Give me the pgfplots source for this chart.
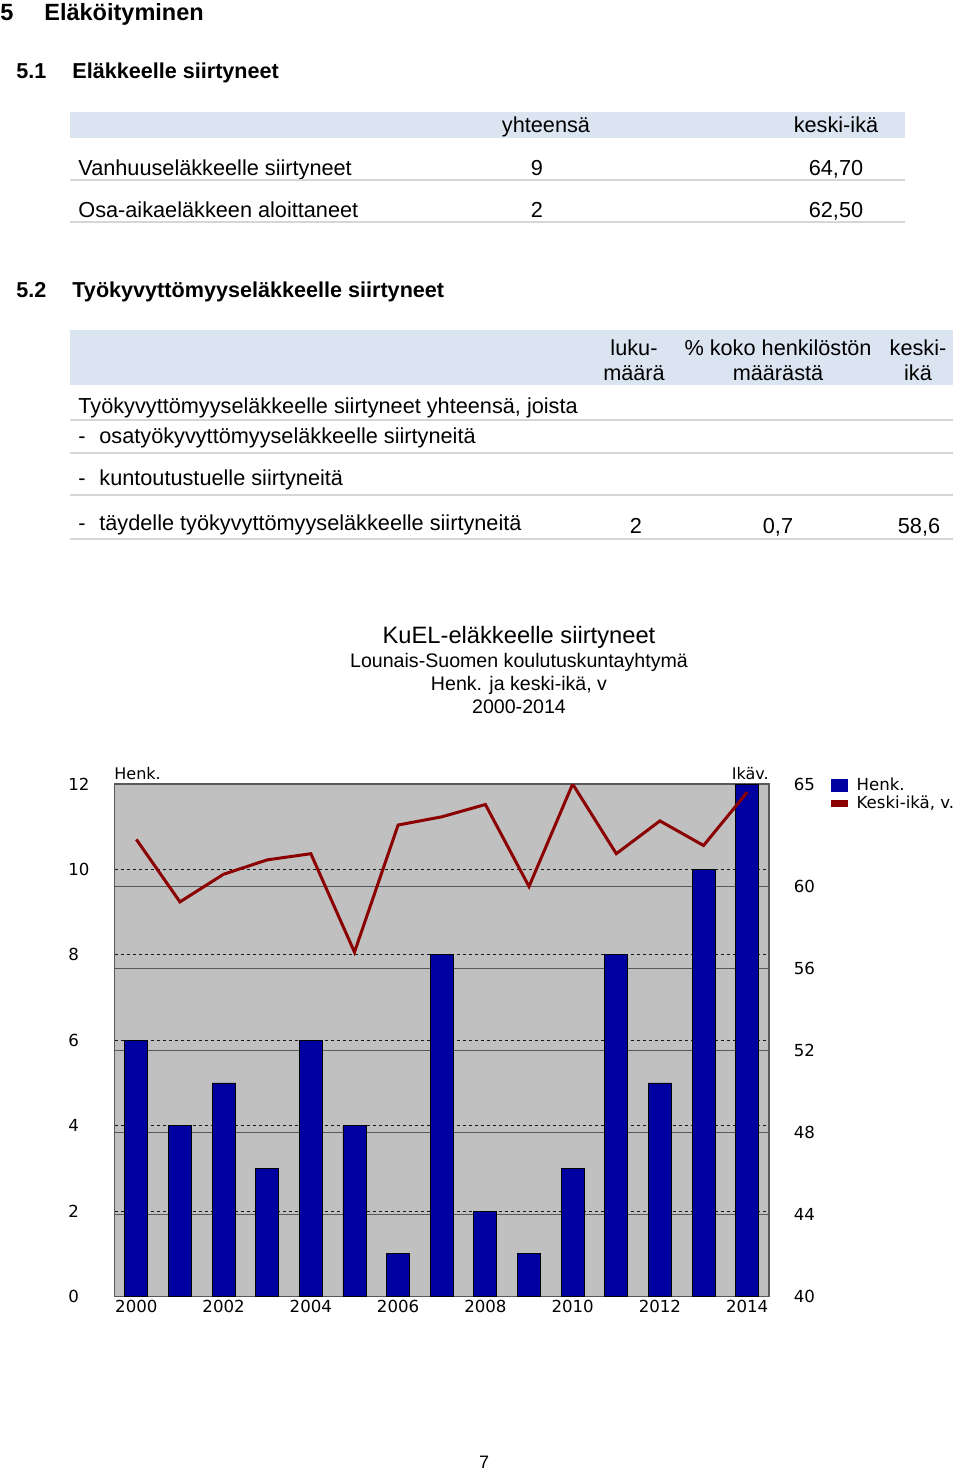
\documentclass[border=0pt]{standalone}
\usepackage{fontspec}
\setmainfont{Liberation Sans}
\newfontfamily\dejavu{DejaVu Sans}
\usepackage{pgfplots}
\pgfplotsset{compat=1.18}
\definecolor{band}{HTML}{DBE5F1}
\definecolor{rulec}{HTML}{D6D6D6}
\definecolor{plotbg}{HTML}{C0C0C0}
\definecolor{barblue}{HTML}{0000A0}
\definecolor{linered}{HTML}{8B0000}
\newcommand{\fs}[1]{\fontsize{#1}{#1}\selectfont}
\begin{document}
\begin{tikzpicture}[x=0.5pt,y=-0.5pt]
\path[fill=white] (0,0) rectangle (960,1472);
\tikzset{T/.style={inner sep=0pt,font=\fs{10.85}}, H/.style={inner sep=0pt,font=\bfseries\fs{10.8}}}
% headings
\node[anchor=base west,inner sep=0pt,font=\bfseries\fs{11.75}] at (0,20) {5};
\node[anchor=base west,inner sep=0pt,font=\bfseries\fs{11.75}] at (44,20) {Eläköityminen};
\node[anchor=base west,H] at (16,78) {5.1};
\node[anchor=base west,H] at (72,78) {Eläkkeelle siirtyneet};
% table 1
\fill[band] (70,112) rectangle (905,138);
\node[anchor=base,T] at (546,132) {yhteensä};
\node[anchor=base,T] at (836,132) {keski-ikä};
\node[anchor=base west,T] at (78,175) {Vanhuuseläkkeelle siirtyneet};
\node[anchor=base,T] at (537,175) {9};
\node[anchor=base,T] at (836,175) {64,70};
\draw[rulec,line width=0.6pt] (70,180) -- (905,180);
\node[anchor=base west,T] at (78,217) {Osa-aikaeläkkeen aloittaneet};
\node[anchor=base,T] at (537,217) {2};
\node[anchor=base,T] at (836,217) {62,50};
\draw[rulec,line width=0.6pt] (70,222) -- (905,222);
% table 2
\node[anchor=base west,H] at (16,297) {5.2};
\node[anchor=base west,H] at (72,297) {Työkyvyttömyyseläkkeelle siirtyneet};
\fill[band] (70,330) rectangle (953,385);
\node[anchor=base,T] at (634,355) {luku-};
\node[anchor=base,T] at (634,380) {määrä};
\node[anchor=base,T] at (778,355) {\% koko henkilöstön};
\node[anchor=base,T] at (778,380) {määrästä};
\node[anchor=base,T] at (918,355) {keski-};
\node[anchor=base,T] at (918,380) {ikä};
\node[anchor=base west,T] at (78,413) {Työkyvyttömyyseläkkeelle siirtyneet yhteensä, joista};
\draw[rulec,line width=0.6pt] (70,420) -- (953,420);
\node[anchor=base west,T] at (78,443) {-};
\node[anchor=base west,T] at (99,443) {osatyökyvyttömyyseläkkeelle siirtyneitä};
\draw[rulec,line width=0.6pt] (70,453) -- (953,453);
\node[anchor=base west,T] at (78,485) {-};
\node[anchor=base west,T] at (99,485) {kuntoutustuelle siirtyneitä};
\draw[rulec,line width=0.6pt] (70,495) -- (953,495);
\node[anchor=base west,T] at (78,530) {-};
\node[anchor=base west,T] at (99,530) {täydelle työkyvyttömyyseläkkeelle siirtyneitä};
\node[anchor=base,T] at (636,533) {2};
\node[anchor=base,T] at (778,533) {0,7};
\node[anchor=base,T] at (919,533) {58,6};
\draw[rulec,line width=0.6pt] (70,539) -- (953,539);
% chart title
\node[anchor=base,inner sep=0pt,font=\fs{11.85}] at (519,643) {KuEL-eläkkeelle siirtyneet};
\node[anchor=base,inner sep=0pt,font=\fs{9.8}] at (519,667) {Lounais-Suomen koulutuskuntayhtymä};
\node[anchor=base,inner sep=0pt,font=\fs{9.8}] at (519,690) {Henk. ja keski-ikä, v};
\node[anchor=base,inner sep=0pt,font=\fs{9.8}] at (519,713) {2000-2014};
% axis captions
\node[anchor=base west,inner sep=0pt,font=\dejavu\fs{8}] at (114,779) {Henk.};
\node[anchor=base east,inner sep=0pt,font=\dejavu\fs{8}] at (769,779) {Ikäv.};
% page number
\node[anchor=base,inner sep=0pt,font=\fs{9}] at (484,1468) {7};

\begin{axis}[
  at={(57.25pt,-648.25pt)}, anchor=south west,
  scale only axis, width=327.25pt, height=256.25pt,
  xmin=1999.5, xmax=2014.5, ymin=0, ymax=12,
  axis background/.style={fill=plotbg},
  axis line style={draw=black!65, line width=0.8pt},
  ytick={0,2,...,12}, xtick={2000,2002,...,2014},
  ymajorgrids,
  major grid style={black!90, dash pattern=on 1.5pt off 1.5pt, line width=0.5pt},
  extra y ticks={1.92,3.84,5.76,7.68,9.6}, extra y tick labels={},
  extra y tick style={grid=major, major grid style={black!65, solid, line width=0.6pt}},
  major tick length=0pt,
  tick label style={font=\dejavu\fs{8.3}},
  /pgf/number format/assume math mode=true,
  /pgf/number format/1000 sep={},
  yticklabel style={anchor=west, inner sep=0pt, xshift=-23.25pt},
  xticklabel style={anchor=north, inner sep=0pt, yshift=-1.5pt},
  ybar, bar width=11.5pt,
]
\addplot[fill=barblue, draw=black, line width=0.4pt] coordinates {
(2000,6) (2001,4) (2002,5) (2003,3) (2004,6) (2005,4) (2006,1) (2007,8)
(2008,2) (2009,1) (2010,3) (2011,8) (2012,5) (2013,10) (2014,12)};
\end{axis}

\begin{axis}[
  at={(57.25pt,-648.25pt)}, anchor=south west,
  scale only axis, width=327.25pt, height=256.25pt,
  xmin=1999.5, xmax=2014.5, ymin=40, ymax=65,
  axis y line*=right, axis x line=none,
  axis line style={draw=black!65, line width=0.8pt},
  ytick={40,44,48,52,56,60,65},
  major tick length=0pt,
  tick label style={font=\dejavu\fs{8.3}},
  /pgf/number format/assume math mode=true,
  yticklabel style={anchor=west, inner sep=0pt, xshift=12.25pt},
  legend style={draw=none, fill=none, at={(1,1)}, anchor=north west,
    xshift=31pt, yshift=4pt, font=\dejavu\fs{8.3}, inner sep=0pt, row sep=0pt,
    column sep=3.5pt,
    nodes={inner sep=0.7pt, text height=6.2pt, text depth=1.4pt}},
  legend cell align=left,
]
\addplot[linered, line width=1.5pt, forget plot] coordinates {
(2000,62.3) (2001,59.25) (2002,60.6) (2003,61.3) (2004,61.6) (2005,56.8)
(2006,63.0) (2007,63.4) (2008,64.0) (2009,60.0) (2010,65.0) (2011,61.6)
(2012,63.2) (2013,62.0) (2014,64.6)};
\addlegendimage{legend image code/.code={\fill[barblue] (0pt,-3.2pt) rectangle (8pt,3.2pt);}}
\addlegendentry{Henk.}
\addlegendimage{legend image code/.code={\fill[linered] (0pt,-1.5pt) rectangle (8pt,1.5pt);}}
\addlegendentry{Keski-ikä, v.}
\end{axis}
\end{tikzpicture}
\end{document}
